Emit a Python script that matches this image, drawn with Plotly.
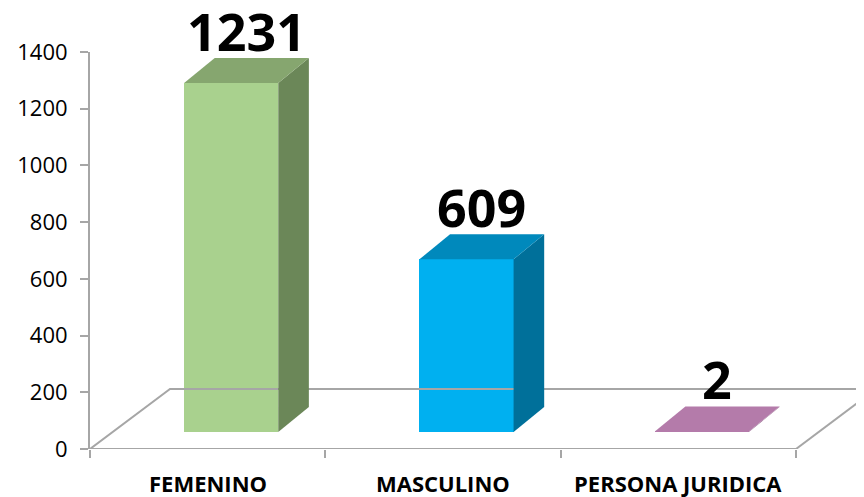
import plotly.graph_objects as go

# ---- data ----
categories = ["FEMENINO", "MASCULINO", "PERSONA JURIDICA"]
values = [1231, 609, 2]
y_ticks = [0, 200, 400, 600, 800, 1000, 1200, 1400]

# ---- colours (front, top, side) ----
front_colors = ["#A9D18E", "#00B0F0", "#B47BAA"]
top_colors = ["#86A66F", "#0089BC", "#B47BAA"]
side_colors = ["#6B8758", "#00709A", "#8E5F86"]

# ---- pseudo 3D geometry (in axis units) ----
BW = 0.40        # bar width
SHIFT_X = 0.10   # bar front shifted into the floor
SHIFT_Y = 60
DX = 0.13        # bar depth
DY = 88
FX = 0.34        # floor depth
FY = 211.6
X_MAX = 2.789

fig = go.Figure()
grey = "#A6A6A6"

# floor
floor_x = [2.5, -0.5, -0.5 + FX, 2.5 + FX + 1, None, 2.5, 2.5 + FX]
floor_y = [0, 0, FY, FY, None, 0, FY]
fig.add_trace(go.Scatter(x=floor_x, y=floor_y, mode="lines",
                         line=dict(color=grey, width=2), hoverinfo="skip",
                         showlegend=False))

for i, (cat, v) in enumerate(zip(categories, values)):
    xc = i + SHIFT_X
    x0, x1 = xc - BW / 2, xc + BW / 2
    y0, y1 = SHIFT_Y, SHIFT_Y + v
    # front face
    fig.add_trace(go.Bar(x=[xc], y=[v], base=[SHIFT_Y], width=[BW],
                         marker=dict(color=front_colors[i], line=dict(width=0)),
                         showlegend=False, hoverinfo="skip"))
    # side face
    fig.add_trace(go.Scatter(x=[x1, x1, x1 + DX, x1 + DX, x1],
                             y=[y0, y1, y1 + DY, y0 + DY, y0],
                             fill="toself", fillcolor=side_colors[i],
                             mode="lines", line=dict(width=0),
                             hoverinfo="skip", showlegend=False))
    # top face
    fig.add_trace(go.Scatter(x=[x0, x1, x1 + DX, x0 + DX, x0],
                             y=[y1, y1, y1 + DY, y1 + DY, y1],
                             fill="toself", fillcolor=top_colors[i],
                             mode="lines", line=dict(width=0),
                             hoverinfo="skip", showlegend=False))
    fig.add_annotation(x=xc + DX / 2, y=y1 + DY, text=f"<b>{v}</b>",
                       showarrow=False, yanchor="bottom", yshift=-10,
                       font=dict(family="Open Sans", size=52, color="#000000"))
    # category label
    fig.add_annotation(x=i, y=0, yref="paper", text=f"<b>{cat}</b>",
                       showarrow=False, yanchor="middle", yshift=-34,
                       font=dict(family="Open Sans", size=22, color="#000000"))

fig.update_layout(
    width=856, height=489,
    margin=dict(l=82, r=0, t=44, b=48, pad=0),
    paper_bgcolor="white", plot_bgcolor="white",
    bargap=0, barmode="overlay",
    xaxis=dict(range=[-0.5, X_MAX], tickvals=[-0.5, 0.5, 1.5, 2.5],
               ticktext=["", "", "", ""], automargin=False,
               ticks="outside", ticklen=8, tickcolor=grey, tickwidth=2,
               showgrid=False, zeroline=False, showline=False,
               fixedrange=True),
    yaxis=dict(range=[0, 1400], tickvals=y_ticks, ticks="outside", ticklen=8,
               tickcolor=grey, tickwidth=2, showline=True, linecolor=grey,
               linewidth=2, showgrid=False, zeroline=False, automargin=False,
               ticklabelstandoff=8,
               tickfont=dict(family="Open Sans", size=22, color="#000000"),
               fixedrange=True),
)

fig.write_html("out.html")
